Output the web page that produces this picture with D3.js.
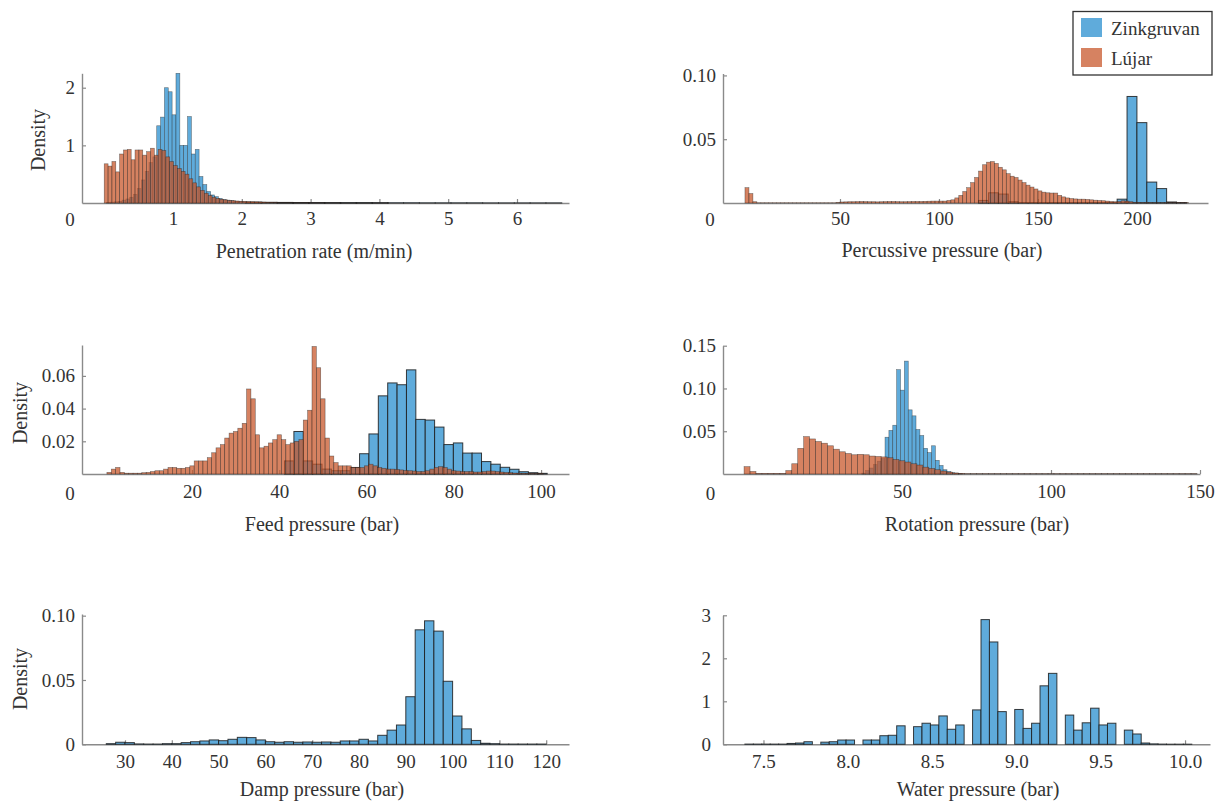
<!DOCTYPE html>
<html>
<head>
<meta charset="utf-8">
<script src="https://cdn.jsdelivr.net/npm/d3@7"></script>
<style>
  body { margin: 0; background: #fff; }
  text { font-family: "Liberation Serif", "Times New Roman", serif; fill: #333; }
</style>
</head>
<body>
<div id="chart"></div>
<script>
// ---- data (density per bin) ----
const seriesNames = ["Zinkgruvan", "Lújar"];

// Penetration rate (m/min)
const penBin = 0.056, penZinkStart = 0.035, penLujarStart = 0;
const penZink = [0.01, 0.015, 0.02, 0.03, 0.05, 0.07, 0.1, 0.15, 0.25, 0.4, 0.55, 0.7, 0.8,
  1.34, 1.49, 2.0, 1.93, 1.53, 2.25, 1.0, 1.0, 1.5, 0.85, 0.93, 0.46, 0.32, 0.2, 0.14,
  0.11, 0.08, 0.06, 0.05, 0.04, 0.03, 0.025, 0.02];
const penLujar = [0.68, 0.64, 0.72, 0.54, 0.85, 0.92, 0.93, 0.75, 0.92, 0.92, 0.83, 0.89,
  0.95, 0.83, 0.93, 0.91, 0.8, 0.72, 0.65, 0.6, 0.55, 0.5, 0.42, 0.35, 0.28, 0.22, 0.17,
  0.13, 0.1, 0.08, 0.065, 0.055, 0.045, 0.04, 0.035, 0.03, 0.028, 0.025, 0.022, 0.02,
  0.018, 0.015, 0.012, 0.01, 0.008];
const penTailBin = 0.23, penZinkTailStart = 2.051, penLujarTailStart = 2.52;
const penZinkTail = [0.015, 0.012, 0.01, 0.008, 0.007, 0.006, 0.005, 0.005, 0.004, 0.004,
  0.004, 0.003, 0.003, 0.003, 0.003, 0.002, 0.002, 0.002, 0.002, 0.002];
const penLujarTail = [0.006, 0.004, 0.003, 0.002, 0.001, 0.001, 0.001];

// Percussive pressure (bar)
const percZinkBin = 5, percZinkStart = 120;
const percZink = [0.002, 0.008, 0.007, 0.001, 0.0003, 0.0003, 0.0003, 0.0003, 0.0003,
  0.0003, 0.0003, 0.0003, 0.0003, 0.0003, 0.003, 0.0835, 0.063, 0.0164, 0.0113, 0.0008, 0.0003];
const percLujarBin = 2, percLujarStart = 2;
const percLujar = [0.012, 0.0074, 0.001,
  0.0002, 0.0002, 0.0002, 0.0002, 0.0002, 0.0002, 0.0002, 0.0002, 0.0002, 0.0002,
  0.0002, 0.0002, 0.0002, 0.0002, 0.0002, 0.0002, 0.0002, 0.0002, 0.0002, 0.0002,
  0.0005, 0.0008, 0.0009, 0.001, 0.001, 0.0011, 0.0012, 0.0011, 0.001, 0.001, 0.0009,
  0.001, 0.0011, 0.0012, 0.0012, 0.0011, 0.001, 0.001, 0.0011, 0.0012, 0.0012, 0.0012,
  0.0013, 0.0014, 0.0015, 0.0015, 0.0015,
  0.0015, 0.002, 0.0025, 0.004, 0.006, 0.009, 0.012, 0.016, 0.02, 0.025, 0.03, 0.032,
  0.0325, 0.031, 0.028, 0.026, 0.023, 0.021, 0.02, 0.018, 0.016, 0.014, 0.0125, 0.011,
  0.0095, 0.0085, 0.008, 0.0078, 0.0078, 0.006, 0.0048, 0.004, 0.0035, 0.0032, 0.003,
  0.003, 0.0028, 0.0025, 0.0022, 0.002, 0.0018, 0.0015, 0.0012, 0.001, 0.0012, 0.0018,
  0.0015, 0.001, 0.0005, 0.0005, 0.0004, 0.0004, 0.0004, 0.0003, 0.0003, 0.0003, 0.0003,
  0.0003, 0.0003, 0.0003, 0.0003, 0.0003];

// Feed pressure (bar)
const feedZinkBin = 2.15, feedZinkStart = 41.2;
const feedZink = [0.008, 0.026, 0.008, 0.006, 0.003, 0.002, 0.002, 0.004, 0.0124, 0.0245,
  0.0478, 0.0557, 0.0546, 0.0637, 0.0334, 0.033, 0.0287, 0.018, 0.019, 0.0128, 0.0128,
  0.0076, 0.006, 0.0041, 0.0029, 0.0014, 0.0008, 0.0004];
const feedLujarBin = 1, feedLujarStart = 0.5;
const feedLujar = [0.001, 0.003, 0.004, 0.001, 0.0005, 0.0005, 0.0005, 0.0005, 0.0008, 0.001,
  0.0015, 0.002, 0.002, 0.003, 0.004, 0.004, 0.0035, 0.0035, 0.004, 0.005,
  0.008, 0.008, 0.008, 0.01, 0.013, 0.016, 0.018, 0.022, 0.025, 0.026,
  0.028, 0.031, 0.052, 0.046, 0.024, 0.016, 0.017, 0.019, 0.021, 0.024,
  0.021, 0.018, 0.019, 0.02, 0.021, 0.033, 0.039, 0.078, 0.065, 0.046,
  0.022, 0.011, 0.007, 0.005, 0.005, 0.005, 0.004, 0.004, 0.004, 0.005,
  0.006, 0.005, 0.004, 0.0035, 0.003, 0.003, 0.0028, 0.0025, 0.0022, 0.002,
  0.0018, 0.0015, 0.0015, 0.002, 0.003, 0.004, 0.0045, 0.004, 0.003, 0.002,
  0.0018, 0.0015, 0.0015, 0.0015, 0.0012, 0.0012, 0.0015, 0.0018, 0.0018, 0.0015,
  0.0012, 0.001, 0.0008, 0.0006, 0.0005, 0.0005, 0.0004, 0.0004, 0.0003, 0.0003];

// Rotation pressure (bar)
const rotZinkBin = 1.3, rotZinkStart = 36.5;
const rotZink = [0.001, 0.004, 0.007, 0.011, 0.015, 0.018, 0.043, 0.051, 0.057, 0.122,
  0.098, 0.132, 0.075, 0.068, 0.052, 0.045, 0.03, 0.025, 0.033, 0.016, 0.01, 0.005,
  0.003, 0.0015, 0.001, 0.0005];
const rotLujarBin = 2, rotLujarStart = -3;
const rotLujar = [0.0086, 0.003, 0.0008, 0.0008, 0.0008, 0.0008, 0.0008, 0.004, 0.012, 0.03,
  0.0437, 0.041, 0.038, 0.036, 0.033, 0.029, 0.026, 0.024, 0.0225, 0.023,
  0.0225, 0.021, 0.0205, 0.02, 0.019, 0.017, 0.0155, 0.014, 0.012, 0.0105,
  0.008, 0.0065, 0.005, 0.0035, 0.0022, 0.0012, 0.0008,
  0.0004, 0.0004, 0.0004, 0.0004, 0.0004, 0.0004, 0.0004, 0.0004, 0.0004, 0.0004,
  0.0004, 0.0004, 0.0004, 0.0004, 0.0004, 0.0004, 0.0004, 0.0004, 0.0004, 0.0004,
  0.0004, 0.0004, 0.0004, 0.0004, 0.0004, 0.0004, 0.0004, 0.0004, 0.0004, 0.0004,
  0.0004, 0.0004, 0.0004, 0.0004, 0.0004, 0.0004, 0.0004, 0.0004, 0.0004];

// Damp pressure (bar)
const dampBin = 2, dampStart = 26;
const dampZink = [0.0005, 0.0016, 0.0013, 0.0003, 0.0002, 0.0002, 0.0005, 0.0005, 0.0013, 0.002,
  0.0026, 0.0034, 0.0028, 0.0039, 0.0054, 0.0052, 0.0034, 0.002, 0.0016, 0.002,
  0.0016, 0.0018, 0.0016, 0.0018, 0.0016, 0.0026, 0.0026, 0.0039, 0.0026, 0.007,
  0.011, 0.015, 0.037, 0.089, 0.096, 0.088, 0.049, 0.022, 0.012, 0.003,
  0.0008, 0.0005, 0.0002, 0.0002, 0.0002, 0.0002, 0.0002];

// Water pressure (bar)
const waterBin = 0.05, waterStart = 7.39;
const waterZink = [0.005, 0.005, 0.005, 0.005, 0.005, 0.02, 0.03, 0.06, 0, 0.05,
  0.06, 0.1, 0.1, 0, 0.1, 0.1, 0.2, 0.21, 0.43, 0,
  0.41, 0.49, 0.45, 0.66, 0.35, 0.45, 0, 0.8, 2.9, 2.38,
  0.76, 0, 0.81, 0.37, 0.49, 1.36, 1.65, 0, 0.68, 0.33,
  0.5, 0.84, 0.45, 0.49, 0, 0.33, 0.24, 0.03, 0.01, 0.005,
  0.003, 0.003, 0.003];

// ---- tick labels ----
const penXTicks = [1, 2, 3, 4, 5, 6], penYTicks = [1, 2];
const percXTicks = [50, 100, 150, 200], percYTicks = [0.05, 0.1];
const feedXTicks = [20, 40, 60, 80, 100], feedYTicks = [0.02, 0.04, 0.06];
const rotXTicks = [50, 100, 150], rotYTicks = [0.05, 0.1, 0.15];
const dampXTicks = [30, 40, 50, 60, 70, 80, 90, 100, 110, 120], dampYTicks = [0, 0.05, 0.1];
const waterXTicks = [7.5, 8.0, 8.5, 9.0, 9.5, 10.0], waterYTicks = [0, 1, 2, 3];

// ---- styles ----
const BLUE = "#5fabdb", ORANGE = "#c8562a";
const W = 1222, H = 802;

const svg = d3.select("#chart").append("svg")
  .attr("width", W).attr("height", H)
  .style("display", "block");

svg.append("rect").attr("width", W).attr("height", H).attr("fill", "#fff");

const panels = [
  { left: 82, right: 569, top: 73.3, bottom: 203, xDomain: [-0.323, 6.756], yMax: 2.25,
    xTicks: penXTicks, yTicks: penYTicks, xFmt: d3.format("d"), yFmt: d3.format("d"),
    title: "Penetration rate (m/min)", titleX: 314, titleY: 251, pad: 9,
    ylabel: [38, 140], zero: [70, 219],
    zink: [[penZink, penZinkStart, penBin], [penZinkTail, penZinkTailStart, penTailBin]],
    lujar: [[penLujar, penLujarStart, penBin], [penLujarTail, penLujarTailStart, penTailBin]] },
  { left: 723, right: 1208, top: 73.5, bottom: 203, xDomain: [-9.1, 235.9], yMax: 0.1015,
    xTicks: percXTicks, yTicks: percYTicks, xFmt: d3.format("d"), yFmt: d3.format(".2f"),
    title: "Percussive pressure (bar)", titleX: 942, titleY: 250, pad: 9,
    zero: [710, 219],
    zink: [[percZink, percZinkStart, percZinkBin]],
    lujar: [[percLujar, percLujarStart, percLujarBin]] },
  { left: 82, right: 569, top: 345, bottom: 474, xDomain: [-5.21, 106.4], yMax: 0.0789,
    xTicks: feedXTicks, yTicks: feedYTicks, xFmt: d3.format("d"), yFmt: d3.format(".2f"),
    title: "Feed pressure (bar)", titleX: 322, titleY: 524, pad: 11,
    ylabel: [20, 413], zero: [70, 493],
    zink: [[feedZink, feedZinkStart, feedZinkBin]],
    lujar: [[feedLujar, feedLujarStart, feedLujarBin]] },
  { left: 723, right: 1200, top: 345.7, bottom: 474, xDomain: [-10.07, 150], yMax: 0.15,
    xTicks: rotXTicks, yTicks: rotYTicks, xFmt: d3.format("d"), yFmt: d3.format(".2f"),
    title: "Rotation pressure (bar)", titleX: 977, titleY: 524, pad: 11,
    zero: [710.5, 493],
    zink: [[rotZink, rotZinkStart, rotZinkBin]],
    lujar: [[rotLujar, rotLujarStart, rotLujarBin]] },
  { left: 82, right: 569, top: 614, bottom: 744.3, xDomain: [20.81, 124.87], yMax: 0.1013,
    xTicks: dampXTicks, yTicks: dampYTicks, xFmt: d3.format("d"), yFmt: d => d === 0 ? "0" : d3.format(".2f")(d),
    title: "Damp pressure (bar)", titleX: 322, titleY: 789, pad: 10,
    ylabel: [20, 679],
    zink: [[dampZink, dampStart, dampBin]], lujar: [] },
  { left: 723, right: 1210, top: 615.3, bottom: 744.3, xDomain: [7.26, 10.148], yMax: 3,
    xTicks: waterXTicks, yTicks: waterYTicks, xFmt: d3.format(".1f"), yFmt: d3.format("d"),
    title: "Water pressure (bar)", titleX: 978, titleY: 789, pad: 10, yPad: 12,
    zink: [[waterZink, waterStart, waterBin]], lujar: [] }
];

function drawHist(g, x, y, vals, start, bin, color, opacity) {
  const pxW = x(start + bin) - x(start);
  g.append("g").selectAll("rect")
    .data(vals)
    .join("rect")
    .attr("x", (d, i) => x(start + i * bin))
    .attr("width", (d, i) => x(start + (i + 1) * bin) - x(start + i * bin))
    .attr("y", d => y(d))
    .attr("height", d => y(0) - y(d))
    .attr("fill", color)
    .attr("fill-opacity", opacity)
    .attr("stroke", "#1c1c1c")
    .attr("stroke-opacity", pxW > 6 ? 0.85 : 0.55)
    .attr("stroke-width", pxW > 6 ? 1 : 0.6);
}

function styleAxis(ax) {
  ax.attr("font-size", null).attr("font-family", null);
  ax.select(".domain").attr("stroke", "#8a8a8a").attr("stroke-width", 1.4);
  ax.selectAll(".tick line").attr("stroke", "#8a8a8a").attr("stroke-width", 1.2);
  ax.selectAll(".tick text").style("font-size", "19px").attr("fill", "#333");
}

panels.forEach(p => {
  const x = d3.scaleLinear().domain(p.xDomain).range([p.left, p.right]);
  const y = d3.scaleLinear().domain([0, p.yMax]).range([p.bottom, p.top]);
  const g = svg.append("g");

  const xAx = g.append("g")
    .attr("transform", `translate(0,${p.bottom})`)
    .call(d3.axisBottom(x).tickValues(p.xTicks).tickFormat(p.xFmt)
      .tickSizeInner(-4).tickSizeOuter(0).tickPadding(p.pad));
  styleAxis(xAx);

  const yAx = g.append("g")
    .attr("transform", `translate(${p.left},0)`)
    .call(d3.axisLeft(y).tickValues(p.yTicks).tickFormat(p.yFmt)
      .tickSizeInner(-4).tickSizeOuter(0).tickPadding(p.yPad || 7));
  styleAxis(yAx);

  p.zink.forEach(s => drawHist(g, x, y, s[0], s[1], s[2], BLUE, 1));
  p.lujar.forEach(s => drawHist(g, x, y, s[0], s[1], s[2], ORANGE, 0.74));

  g.append("text")
    .attr("x", p.titleX).attr("y", p.titleY)
    .attr("dy", "0.35em")
    .attr("text-anchor", "middle")
    .style("font-size", "20px")
    .text(p.title);

  if (p.ylabel) {
    g.append("text")
      .attr("transform", `translate(${p.ylabel[0]},${p.ylabel[1]}) rotate(-90)`)
      .attr("dy", "0.35em")
      .attr("text-anchor", "middle")
      .style("font-size", "20px")
      .text("Density");
  }
  if (p.zero) {
    g.append("text")
      .attr("x", p.zero[0]).attr("y", p.zero[1])
      .attr("dy", "0.35em")
      .attr("text-anchor", "middle")
      .style("font-size", "19px")
      .text("0");
  }
});

// legend
const legend = svg.append("g");
legend.append("rect")
  .attr("x", 1073).attr("y", 11.5).attr("width", 139).attr("height", 63.5)
  .attr("fill", "#fff").attr("stroke", "#333").attr("stroke-width", 1.3);
[BLUE, ORANGE].forEach((c, i) => {
  legend.append("rect")
    .attr("x", 1081).attr("y", 18 + i * 30).attr("width", 21).attr("height", 19)
    .attr("fill", c).attr("fill-opacity", i === 0 ? 1 : 0.74);
  legend.append("text")
    .attr("x", 1111).attr("y", 28 + i * 30)
    .attr("dy", "0.35em")
    .style("font-size", "19px")
    .text(seriesNames[i]);
});
</script>
</body>
</html>
